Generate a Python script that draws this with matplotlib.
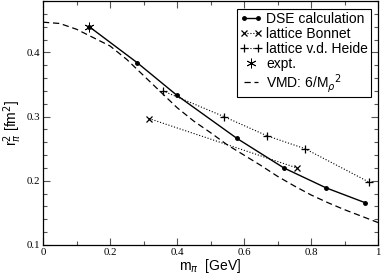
import matplotlib
matplotlib.use("Agg")
import matplotlib.pyplot as plt
from matplotlib.ticker import MultipleLocator
from matplotlib.legend_handler import HandlerLine2D

# DSE calculation
dse_m = [0.138, 0.281, 0.40, 0.579, 0.719, 0.845, 0.961]
dse_r = [0.440, 0.384, 0.333, 0.266, 0.220, 0.189, 0.166]
# lattice Bonnet
bon_m = [0.316, 0.758]
bon_r = [0.297, 0.220]
# lattice v.d. Heide
hei_m = [0.358, 0.540, 0.669, 0.782, 0.973]
hei_r = [0.340, 0.300, 0.270, 0.250, 0.198]
# experiment
exp_m = [0.138]
exp_r = [0.440]
# VMD curve
vmd_m = [0.0, 0.05, 0.1, 0.15, 0.2, 0.25, 0.3, 0.35, 0.4, 0.45, 0.5,
         0.55, 0.6, 0.65, 0.7, 0.75, 0.8, 0.85, 0.9, 0.95, 1.0]
vmd_r = [0.447, 0.445, 0.436, 0.423, 0.410, 0.389, 0.364, 0.339, 0.314, 0.293, 0.275,
         0.256, 0.240, 0.224, 0.207, 0.192, 0.178, 0.166, 0.155, 0.145, 0.135]

fig = plt.figure(figsize=(3.82, 2.76), dpi=100)
ax = fig.add_axes([43/382, 1-245/276, 335/382, 244/276])

ax.plot(dse_m, dse_r, '-', color='black', lw=1.0, marker='o', ms=2.5,
        label='DSE calculation')
ax.plot(bon_m, bon_r, ':', color='black', lw=0.8, marker='x', ms=4.5, mew=0.9,
        label='lattice Bonnet')
ax.plot(hei_m, hei_r, ':', color='black', lw=0.8, marker='+', ms=6, mew=0.9,
        label='lattice v.d. Heide')
exp_line, = ax.plot(exp_m, exp_r, linestyle='none', color='black', marker=(6, 2, 0), ms=7,
                    mew=0.6, label='expt.')
ax.plot(vmd_m, vmd_r, '--', color='black', lw=0.9, dashes=(5, 3),
        label='VMD: 6/M$_\\rho$$^2$')

ax.xaxis.set_minor_locator(MultipleLocator(0.1))
ax.yaxis.set_minor_locator(MultipleLocator(0.02))
ax.tick_params(which='both', direction='in', top=True, right=True, color='#555555')
ax.tick_params(which='major', length=5, width=0.8, labelsize=7.8, pad=2)
ax.tick_params(which='minor', length=3, width=0.8)
xt = [0, 0.2, 0.4, 0.6, 0.8, 1.0]
ax.set_xticks(xt)
ax.set_xticklabels(['0', '0.2', '0.4', '0.6', '0.8', '1'], family='Liberation Serif')
yt = [0.1, 0.2, 0.3, 0.4]
ax.set_yticks(yt)
ax.set_yticklabels(['0.1', '0.2', '0.3', '0.4'], family='Liberation Serif')
ax.set_xlim(0, 1)
ax.set_ylim(0.1, 0.48)
for sp in ax.spines.values():
    sp.set_linewidth(0.9)

ax.set_xlabel('m$_\\pi$  [GeV]', family='Liberation Sans', fontsize=10)
ax.set_ylabel('r$_\\pi^2$ [fm$^2$]', family='Liberation Sans', fontsize=10)
ax.xaxis.set_label_coords(0.5, -0.05)
ax.yaxis.set_label_coords(-0.056, 0.5)

leg = ax.legend(loc='upper right', bbox_to_anchor=(0.979, 0.967), numpoints=2,
                handler_map={exp_line: HandlerLine2D(numpoints=1)},
                prop={'family': 'Liberation Sans', 'size': 10}, fancybox=False,
                edgecolor='black', framealpha=1, handlelength=1.6,
                handletextpad=0.3, borderpad=0.2, labelspacing=0.07, borderaxespad=0)
leg.get_frame().set_linewidth(0.8)

fig.savefig('out.png', dpi=100)
